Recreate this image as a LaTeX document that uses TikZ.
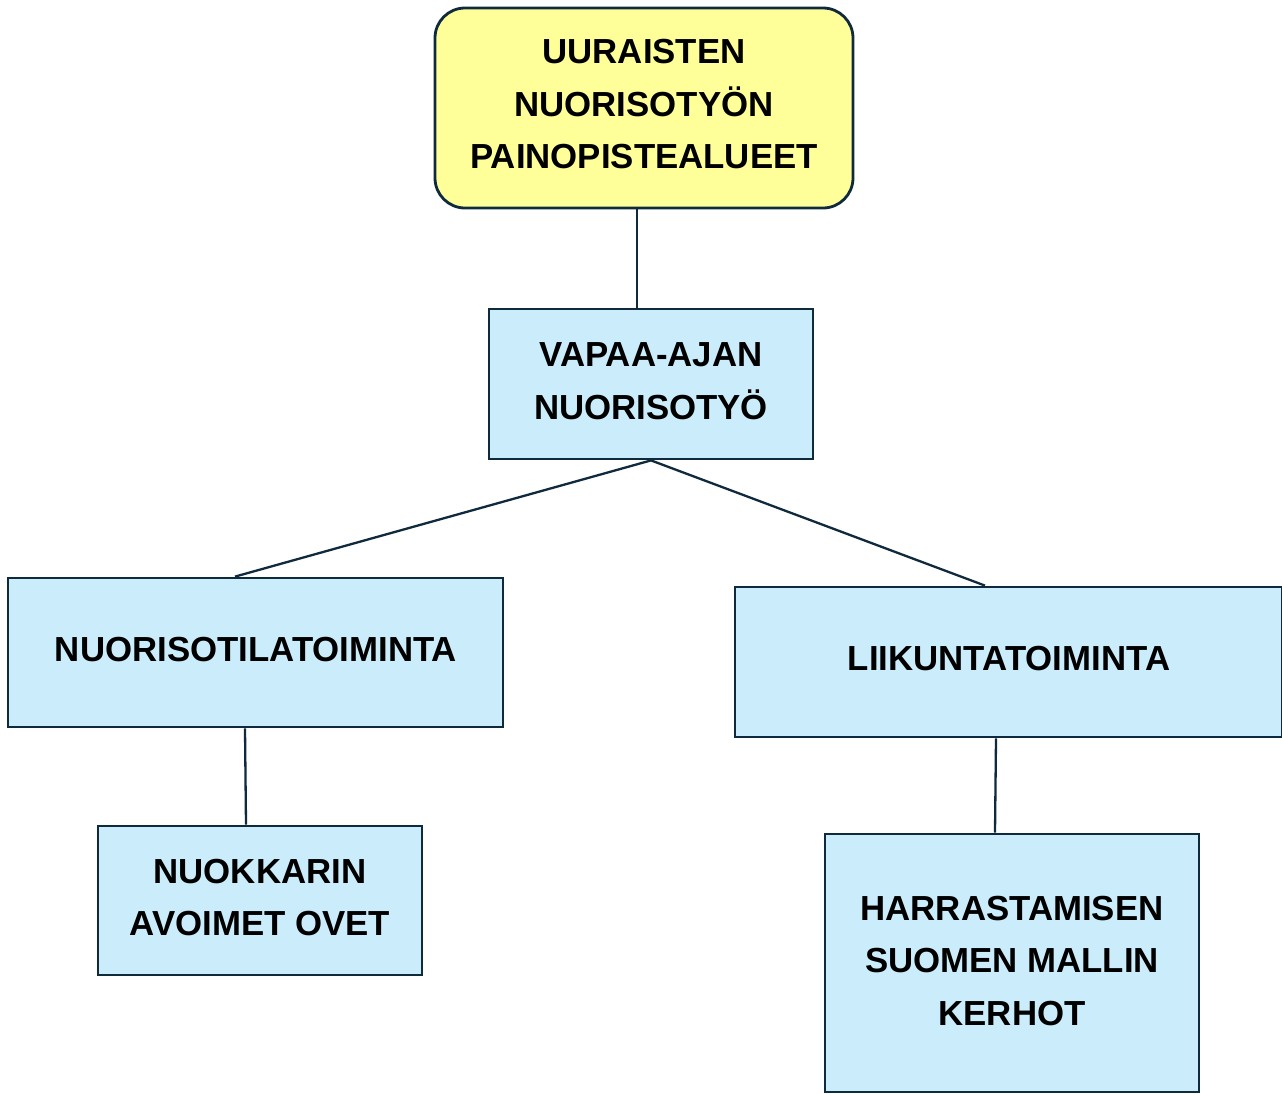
\documentclass[tikz,border=0pt]{standalone}
\usepackage{fontspec}
\setmainfont{Liberation Sans}
\definecolor{boxyellow}{HTML}{FFFF99}
\definecolor{boxblue}{HTML}{CBEDFB}
\definecolor{navy}{HTML}{0F2A3D}
\begin{document}
\begin{tikzpicture}[x=1pt,y=-1pt,
  lbl/.style={font=\fontsize{34.8}{52.5}\selectfont\bfseries, align=center, inner sep=0pt},
  bluebox/.style={draw=navy, fill=boxblue, line width=2.8pt, inner sep=0pt},
  yellowbox/.style={draw=navy, fill=boxyellow, line width=2.8pt, rounded corners=30pt, inner sep=0pt},
  conn/.style={draw=navy, line width=2.3pt}]
\useasboundingbox (0,0) rectangle (1282,1093);
\node[yellowbox, minimum width=418pt, minimum height=200pt] (top) at (644,108) {};
\node[lbl] (toptxt) at (644,104.5) {UURAISTEN\\NUORISOTYÖN\\PAINOPISTEALUEET};
\node[bluebox, minimum width=324pt, minimum height=150pt] (vap) at (651,384) {};
\node[lbl] (vaptxt) at (651,381) {VAPAA-AJAN\\NUORISOTYÖ};
\node[bluebox, minimum width=495pt, minimum height=149pt] (nuo) at (255.5,652.5) {};
\node[lbl] (nuotxt) at (256,650) {NUORISOTILATOIMINTA};
\node[bluebox, minimum width=547pt, minimum height=150pt] (lii) at (1008.5,662) {};
\node[lbl] (liitxt) at (1009,659) {LIIKUNTATOIMINTA};
\node[bluebox, minimum width=324pt, minimum height=149pt] (nuok) at (260,900.5) {};
\node[lbl] (nuoktxt) at (260,897.5) {NUOKKARIN\\AVOIMET OVET};
\node[bluebox, minimum width=374pt, minimum height=258pt] (harr) at (1012,963) {};
\node[lbl] (harrtxt) at (1012,961) {HARRASTAMISEN\\SUOMEN MALLIN\\KERHOT};
\draw[conn] ([xshift=-7pt]top.south) -- ([xshift=-14pt]vap.north);
\draw[conn] (vap.south) -- ([xshift=-20.5pt]nuo.north);
\draw[conn] (vap.south) -- ([xshift=-23.5pt]lii.north);
\draw[conn] ([xshift=-10.5pt]nuo.south) -- ([xshift=-14pt]nuok.north);
\draw[conn] ([xshift=-12.5pt]lii.south) -- ([xshift=-17pt]harr.north);
\end{tikzpicture}
\end{document}
